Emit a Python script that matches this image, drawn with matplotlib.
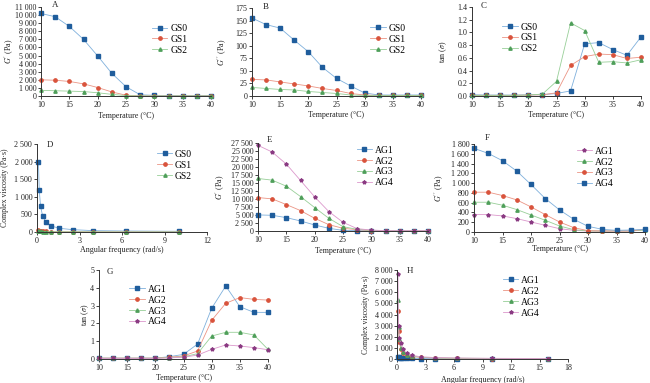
import matplotlib
matplotlib.use("Agg")
import matplotlib.pyplot as plt
from matplotlib.ticker import FuncFormatter, MultipleLocator

plt.rcParams['font.family'] = ['Liberation Serif', 'DejaVu Serif']
plt.rcParams['mathtext.fontset'] = 'stix'

# ---------------- data ----------------
temps = [10, 12.5, 15, 17.5, 20, 22.5, 25, 27.5, 30, 32.5, 35, 37.5, 40]

# A: G' (Pa)
A_GS0 = [10200, 9800, 8600, 7000, 4950, 2800, 1150, 150, 80, 60, 60, 50, 50]
A_GS1 = [2000, 1950, 1800, 1500, 1050, 500, 100, 20, 10, 10, 10, 10, 10]
A_GS2 = [700, 650, 600, 550, 400, 200, 50, 10, 5, 5, 5, 5, 5]

# B: G'' (Pa)
B_GS0 = [155, 142, 135, 111, 88, 57, 35, 20, 6, 2, 2, 2, 2]
B_GS1 = [33, 32, 28, 24, 20, 15, 11, 5, 2, 1, 1, 1, 1]
B_GS2 = [17, 15, 13, 12, 9, 7, 5, 2, 1, 1, 1, 1, 1]

# C: tan
C_GS0 = [0.02, 0.015, 0.015, 0.015, 0.018, 0.02, 0.04, 0.08, 0.82, 0.84, 0.73, 0.64, 0.93]
C_GS1 = [0.01, 0.01, 0.01, 0.01, 0.015, 0.02, 0.05, 0.48, 0.62, 0.66, 0.65, 0.59, 0.61]
C_GS2 = [0.01, 0.01, 0.01, 0.01, 0.015, 0.03, 0.23, 1.15, 1.03, 0.53, 0.54, 0.52, 0.57]

# D: complex viscosity vs angular frequency
D_freq = [0.1, 0.158, 0.251, 0.398, 0.631, 1.0, 1.585, 2.512, 3.981, 6.31, 10.0]
D_GS0 = [2000, 1200, 730, 456, 275, 171, 105, 67, 38, 28, 20]
D_GS1 = [60, 40, 30, 22, 16, 12, 9, 7, 5, 4, 3]
D_GS2 = [30, 22, 16, 12, 9, 7, 5, 4, 3, 2, 2]

# E: G' (Pa)
E_AG1 = [5020, 4910, 4180, 3140, 1880, 840, 200, 100, 50, 50, 50, 50, 50]
E_AG2 = [10450, 10040, 8260, 6380, 3970, 1990, 840, 420, 120, 100, 100, 100, 100]
E_AG3 = [16420, 15890, 14010, 10770, 7320, 3970, 1360, 520, 200, 150, 150, 150, 150]
E_AG4 = [26770, 24680, 20910, 15790, 10670, 6070, 2720, 730, 300, 100, 100, 100, 100]

# F: G'' (Pa)
F_AG1 = [356, 356, 329, 274, 205, 137, 68, 34, 20, 20, 20, 20, 48]
F_AG2 = [609, 609, 548, 459, 349, 240, 123, 48, 20, 20, 20, 20, 40]
F_AG3 = [814, 814, 746, 657, 513, 356, 205, 89, 27, 20, 20, 20, 60]
F_AG4 = [1711, 1608, 1458, 1246, 972, 684, 452, 260, 116, 55, 34, 41, 55]

# G: tan
G_AG1 = [0.05, 0.05, 0.05, 0.05, 0.05, 0.13, 0.26, 0.84, 2.85, 4.1, 2.94, 2.62, 2.62]
G_AG2 = [0.05, 0.05, 0.05, 0.05, 0.05, 0.1, 0.17, 0.45, 2.17, 3.13, 3.45, 3.35, 3.31]
G_AG3 = [0.04, 0.04, 0.04, 0.04, 0.04, 0.08, 0.12, 0.3, 1.29, 1.5, 1.5, 1.35, 0.54]
G_AG4 = [0.03, 0.03, 0.03, 0.03, 0.03, 0.06, 0.1, 0.22, 0.54, 0.79, 0.73, 0.64, 0.52]

# H: complex viscosity vs angular frequency
H_freq = [0.1, 0.158, 0.251, 0.398, 0.631, 1.0, 1.585, 2.512, 3.981, 6.31, 10.0, 15.85]
H_AG1 = [200, 150, 120, 90, 70, 60, 50, 40, 35, 30, 30, 25]
H_AG2 = [4300, 2500, 1500, 900, 550, 350, 220, 140, 90, 60, 40, 30]
H_AG3 = [5300, 2900, 1800, 1000, 600, 400, 250, 160, 100, 70, 50, 35]
H_AG4 = [7600, 3000, 1900, 1400, 870, 510, 330, 200, 130, 90, 60, 40]

# ---------------- styles ----------------
BLUE = dict(color='#7fb0dc', marker='s', mfc='#1f5d9c', mec='#1f5d9c', ms=2.6)
RED = dict(color='#eb9585', marker='o', mfc='#d9533c', mec='#d9533c', ms=2.4)
GREEN = dict(color='#98cf98', marker='^', mfc='#4f9f5a', mec='#4f9f5a', ms=2.4)
PURPLE = dict(color='#dc98cc', marker='*', mfc='#8a3a82', mec='#8a3a82', ms=2.8)

W, H = 650, 383
fig = plt.figure(figsize=(6.5, 3.83), dpi=100)


def make_ax(l, r, t, b):
    return fig.add_axes([l / W, 1 - b / H, (r - l) / W, (b - t) / H])


def thousands(v, pos):
    s = f"{int(round(v)):,}".replace(",", " ")
    return s


def style(ax, letter, lpos, xlabel, ylabel, xl, yl, xlim, ylim, xstep, ystep,
          yfmt, leg, legpos, ylfs=5.8):
    ax.set_xlim(*xlim)
    ax.set_ylim(*ylim)
    ax.xaxis.set_major_locator(MultipleLocator(xstep))
    ax.yaxis.set_major_locator(MultipleLocator(ystep))
    ax.yaxis.set_major_formatter(FuncFormatter(yfmt))
    for s in ['top', 'right']:
        ax.spines[s].set_visible(False)
    for s in ['left', 'bottom']:
        ax.spines[s].set_color('#333333')
        ax.spines[s].set_linewidth(0.7)
    ax.tick_params(direction='out', length=2, width=0.6, pad=1.5,
                   labelsize=5.8, colors='#222222')
    ax.set_xlabel(xlabel, fontsize=5.8, color='#222222')
    ax.set_ylabel(ylabel, fontsize=ylfs, color='#222222')
    ax.xaxis.set_label_coords(0.5, xl)
    ax.yaxis.set_label_coords(yl, 0.5)
    ax.text(lpos[0], lpos[1], letter, transform=ax.transAxes, fontsize=6.4,
            ha='center', va='center', color='#222222')
    if leg:
        ax.legend(loc='upper left', bbox_to_anchor=legpos, frameon=False,
                  fontsize=6.9, borderpad=0, borderaxespad=0,
                  handlelength=1.6, handletextpad=0.3, labelspacing=0.2)


def plot(ax, x, y, st, label):
    ax.plot(x, y, lw=0.6, clip_on=False, label=label, **st)


fmt_int = lambda v, p: thousands(v, p)
fmt_1 = lambda v, p: f"{v:.1f}"

# A
ax = make_ax(41, 211, 7, 96)
plot(ax, temps, A_GS0, BLUE, 'GS0')
plot(ax, temps, A_GS1, RED, 'GS1')
plot(ax, temps, A_GS2, GREEN, 'GS2')
style(ax, 'A', (0.08, 1.02), 'Temperature (°C)', r"$G'$ (Pa)", -0.18, -0.147,
      (10, 40), (0, 11000), 5, 1000, fmt_int, True, (0.653, 0.81))

# B
ax = make_ax(252, 421, 8, 96)
plot(ax, temps, B_GS0, BLUE, 'GS0')
plot(ax, temps, B_GS1, RED, 'GS1')
plot(ax, temps, B_GS2, GREEN, 'GS2')
style(ax, 'B', (0.08, 1.01), 'Temperature (°C)', r"$G''$ (Pa)", -0.17, -0.136,
      (10, 40), (0, 175), 5, 25, fmt_int, True, (0.70, 0.82))

# C
ax = make_ax(472, 641, 7, 96)
plot(ax, temps, C_GS0, BLUE, 'GS0')
plot(ax, temps, C_GS1, RED, 'GS1')
plot(ax, temps, C_GS2, GREEN, 'GS2')
style(ax, 'C', (0.07, 1.01), 'Temperature (°C)', r"tan ($\sigma$)", -0.17, -0.136,
      (10, 40), (0, 1.4), 5, 0.2, fmt_1, True, (0.18, 0.825))

# D
ax = make_ax(37, 207, 144, 232)
plot(ax, D_freq, D_GS0, BLUE, 'GS0')
plot(ax, D_freq, D_GS1, RED, 'GS1')
plot(ax, D_freq, D_GS2, GREEN, 'GS2')
style(ax, 'D', (0.076, 0.99), 'Angular frequency (rad/s)', 'Complex viscosity (Pa·s)',
      -0.16, -0.162, (0, 12), (0, 2500), 3, 500, fmt_int, True, (0.705, 0.935),
      ylfs=5.6)

# E
ax = make_ax(258, 428, 143, 231)
plot(ax, temps, E_AG1, BLUE, 'AG1')
plot(ax, temps, E_AG2, RED, 'AG2')
plot(ax, temps, E_AG3, GREEN, 'AG3')
plot(ax, temps, E_AG4, PURPLE, 'AG4')
style(ax, 'E', (0.07, 1.03), 'Temperature (°C)', r"$G'$ (Pa)", -0.18, -0.18,
      (10, 40), (0, 27500), 5, 2500, fmt_int, True, (0.58, 0.97))

# F
ax = make_ax(474, 645, 144, 232)
plot(ax, temps, F_AG1, PURPLE, 'AG1')
plot(ax, temps, F_AG2, GREEN, 'AG2')
plot(ax, temps, F_AG3, RED, 'AG3')
plot(ax, temps, F_AG4, BLUE, 'AG4')
style(ax, 'F', (0.076, 1.07), 'Temperature (°C)', r"$G''$ (Pa)", -0.15, -0.164,
      (10, 40), (0, 1800), 5, 200, fmt_int, True, (0.60, 0.97))

# G
ax = make_ax(99, 268, 270, 359)
plot(ax, temps, G_AG1, BLUE, 'AG1')
plot(ax, temps, G_AG2, RED, 'AG2')
plot(ax, temps, G_AG3, GREEN, 'AG3')
plot(ax, temps, G_AG4, PURPLE, 'AG4')
style(ax, 'G', (0.065, 0.98), 'Temperature (°C)', r"tan ($\sigma$)", -0.17, -0.047,
      (10, 40), (0, 5), 5, 1, fmt_int, True, (0.18, 0.835))

# H
ax = make_ax(397, 568, 270, 359)
plot(ax, H_freq, H_AG1, BLUE, 'AG1')
plot(ax, H_freq, H_AG2, RED, 'AG2')
plot(ax, H_freq, H_AG3, GREEN, 'AG3')
plot(ax, H_freq, H_AG4, PURPLE, 'AG4')
style(ax, 'H', (0.076, 0.99), 'Angular frequency (rad/s)', 'Complex viscosity (Pa·s)',
      -0.19, -0.158, (0, 18), (0, 8000), 3, 1000, fmt_int, True, (0.62, 0.935),
      ylfs=5.6)

fig.savefig('out.png', dpi=100)
